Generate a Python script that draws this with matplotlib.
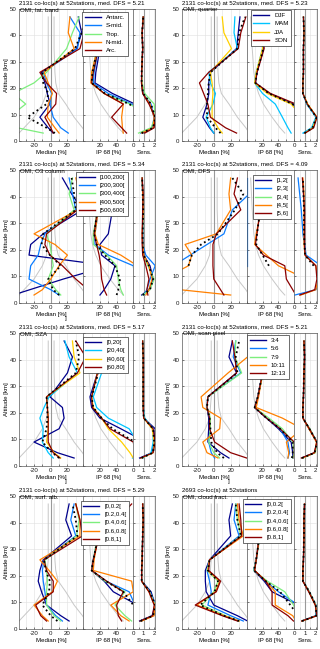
import numpy as np
import matplotlib
matplotlib.use("Agg")
import matplotlib.pyplot as plt
from matplotlib.lines import Line2D

plt.rcParams['font.family'] = ['Liberation Sans', 'DejaVu Sans']
nan = float('nan')

# ---------------- data ----------------
alt = [3, 5, 9, 14, 18, 22, 26, 35, 41, 47]

gray_med_lo = [-38, -32, -20, -10, -5, -4, -3, -3, -3, -3]
gray_med_hi = [42, 38, 28, 18, 9, 6, 5, 4, 4, 4]
gray_ip68 = [48, 42, 32, 21, 15, 11, 9, 7, 6, 5]

titles_1 = ["2131 co-loc(s) at 52stations, med. DFS = 5.21",
            "2131 co-loc(s) at 52stations, med. DFS = 5.23",
            "2131 co-loc(s) at 52stations, med. DFS = 5.34",
            "2131 co-loc(s) at 52stations, med. DFS = 4.09",
            "2131 co-loc(s) at 52stations, med. DFS = 5.17",
            "2131 co-loc(s) at 52stations, med. DFS = 5.21",
            "2131 co-loc(s) at 52stations, med. DFS = 5.29",
            "2693 co-loc(s) at 52stations"]
titles_2 = ["OMI, lat. band", "OMI, quarter", "OMI, O3 column", "OMI, DFS",
            "OMI, SZA", "OMI, scan pixel", "OMI, surf. alb.", "OMI, cloud fract."]

# panel 1: latitude band (last row = all co-locations, black dotted)
p1_labels = ["Antarc.", "S-mid.", "Trop.", "N-mid.", "Arc."]
p1_med = [[3, -3, -13, -1, -4, -7, -11, 31, 37, 33],
          [21, 12, 3, -1, 1, -5, -9, 32, 35, 23],
          [-9, -40, -50, -30, -45, -20, -5, 19, 26, 34],
          [10, 5, -4, -3, 2, -3, -8, 28, 21, 23],
          [3, 0, -7, 6, 7, -5, -13, 35, 40, 45],
          [5, -5, -28, -5, -3, -9, -10, 29, 37, 42]]
p1_ip = [[80, 80, 80, 62, 35, 14, 15, 20, 19, 18],
         [80, 80, 80, 58, 30, 12, 13, 18, 18, 17],
         [80, 80, 80, 56, 25, 10, 11, 16, 17, 15],
         [48, 47, 46, 48, 25, 9, 10, 17, 18, 16],
         [52, 46, 34, 48, 25, 10, 12, 18, 19, 17],
         [80, 80, 80, 55, 26, 10, 11, 17, 18, 16]]
p1_sens = [[0.9, 1.9, 2.0, 1.6, 0.95, 0.8, 0.8, 0.9, 0.85, 0.95],
           [0.7, 1.8, 2.0, 1.7, 0.9, 0.8, 0.8, 0.9, 0.85, 0.95],
           [0.5, 1.7, 2.1, 2.0, 1.1, 0.85, 0.8, 0.9, 0.85, 0.95],
           [0.8, 1.9, 2.0, 1.6, 0.9, 0.8, 0.8, 0.9, 0.85, 0.95],
           [1.1, 2.0, 2.1, 1.5, 0.9, 0.78, 0.8, 0.9, 0.85, 0.95],
           [0.8, 1.9, 2.1, 1.7, 0.95, 0.8, 0.8, 0.9, 0.85, 0.95]]

# panel 2: quarter
p2_labels = ["DJF", "MAM", "JJA", "SON"]
p2_med = [[0, -5, -13, -8, -6, -6, -4, 27, 29, 31],
          [0, -4, -9, -1, 2, -4, -6, 28, 24, 25],
          [10, 5, -2, -2, -1, -2, -4, 21, 12, 10],
          [27, 14, -4, -7, -12, -17, -6, 29, 32, 38],
          [8, 2, -8, -8, -7, -6, -4, 28, 30, 37]]
p2_ip = [[80, 80, 70, 58, 28, 11, 13, 21, 20, 18],
         [56, 52, 45, 36, 20, 10, 12, 20, 19, 17],
         [80, 80, 70, 56, 26, 10, 12, 20, 19, 17],
         [80, 80, 70, 62, 30, 11, 13, 22, 21, 19],
         [80, 80, 70, 58, 28, 11, 13, 21, 20, 18]]
p2_sens = [[0.9, 1.7, 2.05, 1.2, 0.8, 0.8, 0.85, 0.85, 0.9, 0.85],
           [0.8, 1.6, 2.0, 1.15, 0.8, 0.8, 0.85, 0.85, 0.9, 0.85],
           [1.0, 1.7, 2.1, 1.25, 0.8, 0.8, 0.85, 0.85, 0.9, 0.85],
           [1.0, 1.8, 2.1, 1.2, 0.8, 0.8, 0.85, 0.85, 0.9, 0.85],
           [0.95, 1.7, 2.05, 1.2, 0.8, 0.8, 0.85, 0.85, 0.9, 0.85]]

# panel 3: O3 column
p3_labels = ["[100,200[", "[200,300[", "[300,400[", "[400,500[", "[500,600]"]
p3_med = [[-45, -25, 15, 70, -26, -24, -9, 38, 25, 14],
          [10, 0, -26, -24, -15, -12, -7, 30, 26, 22],
          [12, 6, -3, 3, 1, -1, -5, 28, 22, 26],
          [-20, -10, 0, 10, 20, 5, -20, 32, 35, 30],
          [50, 45, 30, 14, -1, -7, -5, 32, 38, 40],
          [10, 3, -3, 12, -1, -11, -9, 30, 28, 25]]
p3_ip = [[20, 25, 33, 38, 22, 20, 30, 35, 30, 28],
         [70, 70, 62, 60, 30, 14, 14, 18, 19, 18],
         [48, 45, 42, 40, 28, 12, 12, 17, 18, 17],
         [70, 70, 70, 65, 45, 18, 14, 18, 19, 18],
         [28, 25, 22, 21, 19, 16, 13, 17, 18, 17],
         [40, 42, 44, 38, 26, 16, 13, 17, 18, 17]]
p3_sens = [[0.8, 1.5, 1.9, 1.6, 1.0, 0.95, 0.9, 0.95, 0.9, 0.85],
           [1.0, 1.3, 1.6, 2.1, 1.2, 0.9, 0.9, 0.95, 0.9, 0.85],
           [0.9, 1.6, 2.0, 1.4, 0.95, 0.9, 0.9, 0.95, 0.9, 0.85],
           [1.2, 1.5, 1.8, 1.5, 1.0, 0.9, 0.85, 0.95, 0.9, 0.85],
           [1.4, 1.3, 1.5, 1.2, 0.9, 0.85, 0.85, 0.9, 0.95, 0.85],
           [0.9, 1.6, 1.9, 1.5, 1.0, 0.9, 0.9, 0.95, 0.9, 0.85]]

# panel 4: DFS
p4_labels = ["[1,2[", "[2,3[", "[3,4[", "[4,5[", "[5,6]"]
p4_med = [[nan] * 10,
          [nan, nan, nan, -48, -28, -8, 12, 22, 42, 50],
          [nan] * 10,
          [20, -40, -60, -30, -26, -34, 3, 20, 18, 20],
          [12, 8, 0, -1, -1, -1, 3, 32, 24, 28],
          [nan, nan, nan, -30, -26, -15, 5, 25, 35, 22]]
p4_ip = [[nan] * 10,
         [nan, nan, nan, 0, 0, 0, 0, 0, 0, 0],
         [nan] * 10,
         [80, 80, 75, 40, 25, 10, 12, 18, 19, 18],
         [62, 58, 50, 48, 21, 11, 13, 17, 18, 17],
         [nan, nan, nan, 28, 20, 12, 13, 17, 18, 17]]
p4_sens = [[nan] * 10,
           [0.05, 2.0, 2.5, 2.5, 1.1, 0.95, 0.8, 0.65, 0.5, 0.35],
           [nan] * 10,
           [0.6, 2.0, 2.2, 2.0, 1.0, 0.9, 0.9, 0.9, 0.9, 0.8],
           [0.5, 1.9, 2.1, 2.0, 1.0, 0.95, 0.95, 0.95, 0.85, 0.75],
           [nan, nan, nan, 1.8, 1.0, 0.95, 0.9, 0.9, 0.85, 0.8]]

# panel 5: SZA
p5_labels = ["[0,20[", "[20,40[", "[40,60[", "[60,80]"]
p5_med = [[28, 8, -20, 10, 16, 14, -1, 20, 26, 16],
          [3, -3, -10, -9, -13, -8, -2, 32, 22, 17],
          [12, 4, -5, -3, -3, -4, -5, 35, 28, 26],
          [11, 3, -3, -3, -3, -4, -5, 32, 42, 30],
          [10, 2, -10, -5, -4, -4, -5, 30, 34, 30]]
p5_ip = [[80, 80, 75, 45, 20, 10, 8, 17, 18, 17],
         [59, 65, 65, 55, 30, 16, 12, 22, 20, 18],
         [60, 56, 46, 30, 22, 12, 10, 17, 18, 17],
         [62, 62, 60, 32, 22, 11, 10, 17, 18, 17],
         [64, 64, 62, 35, 22, 12, 10, 18, 18, 17]]
p5_sens = [[0.6, 1.8, 2.0, 2.1, 1.0, 0.95, 0.95, 0.95, 0.95, 0.9],
           [0.9, 1.7, 1.9, 1.9, 1.1, 0.95, 0.95, 0.95, 0.95, 0.9],
           [0.8, 1.9, 2.0, 1.8, 1.0, 0.95, 0.95, 0.95, 0.95, 0.9],
           [0.7, 1.9, 2.1, 1.9, 1.0, 0.95, 0.95, 0.95, 0.95, 0.9],
           [0.8, 1.9, 2.0, 1.9, 1.0, 0.95, 0.95, 0.95, 0.95, 0.9]]

# panel 6: scan pixel
p6_labels = ["3:4", "5:6", "7:9", "10:11", "12:13"]
p6_med = [[18, 8, -7, -6, -6, -8, -7, 27, 18, 22],
          [1, -3, -6, -4, -5, -8, -7, 32, 23, 26],
          [7, 0, -6, -4, -4, -8, -7, 33, 25, 26],
          [5, -8, -13, 7, 8, -13, -15, 17, 40, 45],
          [39, 20, 1, -5, -5, -8, -7, 27, 25, 22],
          [12, 4, -3, -4, -5, -8, -7, 28, 26, 30]]
p6_ip = [[58, 58, 56, 40, 25, 10, 14, 20, 20, 19],
         [52, 54, 52, 42, 25, 10, 14, 20, 20, 19],
         [58, 60, 58, 45, 28, 10, 14, 21, 21, 20],
         [52, 53, 50, 70, 45, 12, 15, 20, 20, 19],
         [60, 60, 60, 42, 25, 10, 14, 20, 20, 19],
         [57, 58, 58, 42, 25, 10, 14, 20, 20, 19]]
p6_sens = [[0.75, 1.9, 2.1, 1.4, 0.8, 0.8, 0.85, 0.9, 0.95, 0.9],
           [0.7, 1.9, 2.1, 1.4, 0.8, 0.8, 0.85, 0.9, 0.95, 0.9],
           [0.8, 1.95, 2.1, 1.45, 0.8, 0.8, 0.85, 0.9, 0.95, 0.9],
           [0.75, 1.9, 2.05, 1.35, 0.8, 0.8, 0.85, 0.9, 0.95, 0.9],
           [0.65, 1.85, 2.1, 1.4, 0.8, 0.8, 0.85, 0.9, 0.95, 0.9],
           [0.72, 1.9, 2.1, 1.4, 0.8, 0.8, 0.85, 0.9, 0.95, 0.9]]

# panel 7: surface albedo
p7_labels = ["[0,0.2[", "[0.2,0.4[", "[0.4,0.6[", "[0.6,0.8[", "[0.8,1]"]
p7_med = [[22, 12, -5, -11, -15, -13, -9, 25, 18, 22],
          [14, 6, -5, -7, -9, -10, -8, 30, 24, 28],
          [12, 4, -5, -5, -4, -5, -7, 31, 34, 30],
          [-3, -10, -20, 2, 8, -2, -13, 35, 35, 30],
          [-5, -12, -18, 3, 3, -5, -8, 38, 35, 30],
          [8, 0, -10, -2, -1, -6, -8, 32, 30, 26]]
p7_ip = [[70, 70, 65, 36, 25, 10, 12, 18, 19, 20],
         [70, 70, 62, 55, 27, 10, 12, 18, 19, 20],
         [58, 50, 38, 50, 26, 10, 12, 17, 18, 19],
         [55, 45, 33, 60, 58, 12, 13, 18, 19, 20],
         [46, 42, 40, 48, 28, 10, 12, 19, 40, 58],
         [70, 65, 60, 48, 27, 10, 12, 18, 19, 20]]
p7_sens = [[0.6, 1.8, 2.1, 1.7, 0.8, 0.8, 0.85, 0.9, 0.95, 0.9],
           [0.7, 1.9, 2.15, 1.6, 0.8, 0.8, 0.85, 0.9, 0.95, 0.9],
           [0.75, 1.9, 2.1, 1.55, 0.8, 0.8, 0.85, 0.9, 0.95, 0.9],
           [0.8, 2.0, 2.05, 1.5, 0.8, 0.8, 0.85, 0.9, 0.95, 0.9],
           [0.65, 1.85, 2.0, 1.5, 0.8, 0.8, 0.85, 0.9, 0.95, 0.9],
           [0.7, 1.9, 2.1, 1.6, 0.8, 0.8, 0.85, 0.9, 0.95, 0.9]]

# panel 8: cloud fraction
p8_labels = ["[0,0.2[", "[0.2,0.4[", "[0.4,0.6[", "[0.6,0.8[", "[0.8,1]"]
p8_med = [[40, 28, 0, -9, -10, -10, -5, 20, 18, 22],
          [35, 20, -7, -3, -5, -8, -5, 30, 24, 26],
          [30, 14, -14, 0, 5, -8, -5, 32, 28, 26],
          [30, 12, -20, 2, 7, -7, -5, 35, 30, 28],
          [28, 10, -22, 3, 8, -6, -5, 33, 32, 30],
          [30, 12, -16, 1, 5, -7, -5, 32, 28, 26]]
p8_ip = [[70, 70, 65, 32, 22, 9, 12, 16, 18, 21],
         [70, 70, 65, 40, 24, 9, 12, 16, 18, 21],
         [70, 65, 59, 48, 26, 9, 12, 17, 19, 22],
         [62, 58, 36, 36, 24, 10, 12, 16, 18, 21],
         [59, 52, 32, 32, 24, 10, 12, 16, 18, 21],
         [68, 65, 55, 42, 24, 9, 12, 16, 18, 21]]
p8_sens = [[0.7, 2.0, 2.0, 1.35, 0.8, 0.8, 0.85, 0.9, 0.9, 0.95],
           [0.7, 2.0, 2.0, 1.4, 0.8, 0.8, 0.85, 0.9, 0.9, 0.95],
           [0.75, 2.05, 2.0, 1.4, 0.8, 0.8, 0.85, 0.9, 0.9, 0.95],
           [0.7, 2.1, 1.95, 1.35, 0.8, 0.8, 0.85, 0.9, 0.9, 0.95],
           [0.7, 2.1, 1.95, 1.35, 0.8, 0.8, 0.85, 0.9, 0.9, 0.95],
           [0.72, 2.05, 2.0, 1.4, 0.8, 0.8, 0.85, 0.9, 0.9, 0.95]]

# ---------------- style ----------------
NAVY, BLUE, CYAN = '#00008B', '#0A7CFF', '#00C4FF'
GREEN, ORANGE, GOLD, DRED = '#7DEE7D', '#FF8000', '#FFD000', '#8B0000'
pal5 = [NAVY, BLUE, GREEN, ORANGE, DRED]
pal4a = [NAVY, CYAN, GOLD, DRED]

panels = [
    (p1_labels, pal5, p1_med, p1_ip, p1_sens),
    (p2_labels, pal4a, p2_med, p2_ip, p2_sens),
    (p3_labels, pal5, p3_med, p3_ip, p3_sens),
    (p4_labels, pal5, p4_med, p4_ip, p4_sens),
    (p5_labels, pal4a, p5_med, p5_ip, p5_sens),
    (p6_labels, pal5, p6_med, p6_ip, p6_sens),
    (p7_labels, pal5, p7_med, p7_ip, p7_sens),
    (p8_labels, pal5, p8_med, p8_ip, p8_sens),
]
legend_xy = [(82, 12), (250.7, 10), (76, 171.7), (252.7, 175),
             (82.7, 337), (247, 335), (80.7, 500.7), (242.7, 499)]
stray_bracket = [False, False, True, False, True, True, False, False]

W, H = 320, 649
fig = plt.figure(figsize=(W / 100, H / 100), dpi=100)
rows = [(9, 141), (170, 303), (333, 466), (496, 629)]
cols = [(19, 83.3, 133.3, 155), (181.7, 246.7, 294.3, 316.7)]
FS = 4.4


def add_ax(x0, x1, y0, y1):
    return fig.add_axes([x0 / W, 1 - y1 / H, (x1 - x0) / W, (y1 - y0) / H])


for k, (labels, colors, med, ip, sens) in enumerate(panels):
    r, c = divmod(k, 2)
    y0, y1 = rows[r]
    xa, xb, xc, xd = cols[c]
    am = add_ax(xa, xb, y0, y1)
    ai = add_ax(xb, xc, y0, y1)
    asn = add_ax(xc, xd, y0, y1)
    for ax in (am, ai, asn):
        ax.set_ylim(0, 50)
        ax.set_yticks(range(0, 51, 10))
        ax.tick_params(direction='in', length=1.5, width=0.4, labelsize=FS,
                       pad=1.5, colors='0.1')
        ax.grid(True, color='0.88', lw=0.4)
        ax.set_axisbelow(True)
        for s in ax.spines.values():
            s.set_linewidth(0.5)
            s.set_color('0.35')
    am.set_xlim(-38, 39)
    am.set_xticks(range(-30, 40, 10))
    am.set_xticklabels(['', '-20', '', '0', '', '20', ''])
    ai.set_xlim(0, 60)
    ai.set_xticks(range(0, 61, 10))
    ai.set_xticklabels(['', '', '20', '', '40', '', ''])
    asn.set_xlim(0, 2.08)
    asn.set_xticks([0, 0.5, 1, 1.5, 2])
    asn.set_xticklabels(['0', '', '1', '', '2'])
    ai.set_yticklabels([])
    asn.set_yticklabels([])

    am.set_xlabel('Median [%]', fontsize=FS, labelpad=1.5)
    ai.set_xlabel('IP 68 [%]', fontsize=FS, labelpad=1.5)
    asn.set_xlabel('Sens.', fontsize=FS, labelpad=1.5)
    am.set_ylabel('Altitude [km]', fontsize=FS, labelpad=1)
    if stray_bracket[k]:
        am.text(0.73, -0.115, ']', transform=am.transAxes, fontsize=FS,
                ha='center', va='center')

    # reference lines
    am.axvline(0, color='0.6', lw=0.8, zorder=1)
    asn.axvline(1, color='0.6', lw=0.8, zorder=1)
    am.plot(gray_med_lo, alt, color='0.78', lw=0.7)
    am.plot(gray_med_hi, alt, color='0.78', lw=0.7)
    ai.plot(gray_ip68, alt, color='0.78', lw=0.7)

    for vm, vi, vs, col in zip(med[:-1], ip[:-1], sens[:-1], colors):
        am.plot(vm, alt, color=col, lw=0.9)
        ai.plot(vi, alt, color=col, lw=0.9)
        asn.plot(vs, alt, color=col, lw=0.9)
    am.plot(med[-1], alt, color='k', lw=1.3, ls=':')
    ai.plot(ip[-1], alt, color='k', lw=1.3, ls=':')
    asn.plot(sens[-1], alt, color='k', lw=1.3, ls=':')

    handles = [Line2D([], [], color=col, lw=1.0) for col in colors]
    lx, ly = legend_xy[k]
    leg = ai.legend(handles, labels, loc='upper left',
                    bbox_to_anchor=(lx / W, 1 - ly / H),
                    bbox_transform=fig.transFigure, fontsize=FS,
                    frameon=True, fancybox=False, framealpha=1,
                    edgecolor='0.2', borderpad=0.45, labelspacing=0.5,
                    handlelength=2.6, handletextpad=0.8, borderaxespad=0)
    leg.get_frame().set_linewidth(0.5)
    leg.set_zorder(10)

    fig.text(xa / W, 1 - (y0 - 5.6) / H, titles_1[k], fontsize=FS,
             ha='left', va='center')
    fig.text((xa + 1) / W, 1 - (y0 + 1.0) / H, titles_2[k], fontsize=FS,
             ha='left', va='center')

fig.savefig('out.png', dpi=100)
